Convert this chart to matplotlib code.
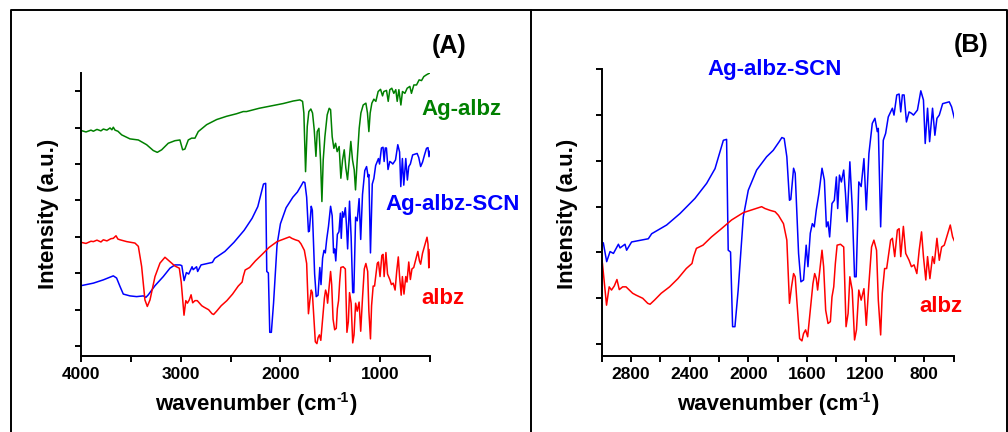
import matplotlib
matplotlib.use("Agg")
import matplotlib.pyplot as plt
from matplotlib.lines import Line2D
from matplotlib.ticker import MultipleLocator, NullFormatter

plt.rcParams['font.family'] = ['Liberation Sans', 'DejaVu Sans']
plt.rcParams['font.weight'] = 'bold'

# ---- spectra (wavenumber in cm-1, intensity in a.u.) ----
green_wn = [4000, 3950, 3900, 3876, 3840, 3800, 3776, 3740, 3709, 3690, 3676, 3659, 3630,
            3592, 3509, 3425, 3342, 3275, 3235, 3191, 3125, 3058, 3008, 2981, 2958,
            2924, 2891, 2857, 2824, 2740, 2640, 2540, 2440, 2373, 2340, 2213, 2139,
            1972, 1871, 1805, 1778, 1765, 1748, 1731, 1715, 1695, 1678, 1661, 1644,
            1631, 1614, 1598, 1584, 1571, 1554, 1531, 1511, 1497, 1481, 1464, 1447,
            1431, 1411, 1394, 1377, 1360, 1344, 1327, 1310, 1294, 1277, 1260, 1247,
            1230, 1210, 1193, 1170, 1143, 1127, 1113, 1100, 1083, 1063, 1043, 1020,
            996, 976, 963, 936, 919, 903, 883, 863, 843, 829, 812, 792, 776, 752,
            729, 702, 686, 662, 635, 609, 585, 562, 535, 508, 500]
green_y = [5.92, 5.88, 5.93, 5.90, 5.95, 5.91, 5.96, 5.93, 5.99, 5.94, 6.01, 5.93, 5.90,
           5.80, 5.69, 5.66, 5.53, 5.37, 5.32, 5.39, 5.57, 5.64, 5.66, 5.39, 5.41,
           5.66, 5.71, 5.71, 5.89, 6.08, 6.22, 6.31, 6.38, 6.44, 6.44, 6.53, 6.57,
           6.66, 6.73, 6.76, 6.72, 6.40, 4.79, 6.03, 6.44, 6.51, 6.40, 5.94, 5.21,
           5.89, 5.98, 5.11, 3.97, 5.11, 5.75, 6.35, 6.53, 6.49, 5.75, 5.43, 5.57,
           5.34, 5.48, 4.61, 5.11, 5.39, 4.89, 4.57, 5.11, 5.62, 5.11, 4.84, 4.29,
           5.11, 5.98, 6.40, 6.62, 6.67, 6.40, 5.89, 6.40, 6.67, 6.78, 6.72, 6.99,
           7.05, 6.87, 6.99, 7.02, 6.72, 7.04, 7.08, 6.94, 7.04, 6.72, 7.04, 6.62, 6.99, 6.94,
           7.08, 7.13, 6.94, 7.17, 7.17, 7.31, 7.29, 7.40, 7.45, 7.49, 7.50]

blue_wn = [4000, 3876, 3776, 3676, 3643, 3609, 3576, 3509, 3442, 3375, 3349, 3325, 3258,
           3175, 3108, 3058, 3008, 2989, 2966, 2943, 2920, 2886, 2875, 2841, 2830,
           2796, 2682, 2659, 2557, 2466, 2364, 2284, 2227, 2170, 2148, 2137, 2121,
           2107, 2091, 2069, 2034, 2000, 1943, 1875, 1830, 1789, 1771, 1755, 1737,
           1719, 1710, 1691, 1680, 1657, 1641, 1623, 1605, 1593, 1577, 1563, 1550,
           1536, 1518, 1497, 1481, 1467, 1456, 1445, 1429, 1413, 1399, 1390, 1378,
           1365, 1349, 1337, 1326, 1307, 1291, 1275, 1264, 1246, 1230, 1211, 1195,
           1177, 1154, 1136, 1120, 1113, 1097, 1079, 1063, 1045, 1017, 1006, 987,
           971, 960, 949, 937, 921, 903, 887, 873, 846, 823, 805, 793, 777, 763,
           743, 727, 713, 697, 674, 629, 613, 594, 575, 555, 535, 520, 510, 500]
blue_y = [1.66, 1.73, 1.82, 1.93, 1.87, 1.64, 1.43, 1.38, 1.36, 1.38, 1.34, 1.41, 1.66,
          1.91, 2.14, 2.23, 2.23, 2.21, 1.80, 2.02, 1.98, 2.18, 2.10, 2.18, 2.05,
          2.23, 2.30, 2.41, 2.60, 2.85, 3.18, 3.51, 3.83, 4.45, 4.47, 2.05, 2.01,
          0.38, 0.38, 1.18, 2.78, 3.36, 3.80, 4.09, 4.23, 4.42, 4.51, 4.49, 4.09,
          3.14, 3.16, 3.84, 3.73, 1.98, 1.36, 1.40, 2.16, 1.69, 2.42, 2.63, 2.56,
          2.93, 3.29, 3.84, 3.58, 2.56, 2.67, 2.34, 3.07, 3.14, 3.65, 2.96, 3.69,
          3.54, 3.80, 3.29, 2.67, 3.98, 3.00, 1.47, 1.47, 3.54, 3.44, 4.05, 2.93,
          4.16, 4.82, 4.93, 4.64, 4.71, 2.56, 4.45, 4.60, 4.96, 5.15, 5.00, 5.44,
          5.46, 5.07, 5.44, 5.44, 4.85, 5.07, 5.04, 5.00, 5.11, 5.53, 5.33, 4.38, 5.15, 4.42,
          5.15, 4.56, 4.93, 5.00, 5.25, 5.29, 5.18, 4.93, 5.05, 5.25, 5.43, 5.45, 5.20, 5.35]

red_wn = [4000, 3950, 3900, 3876, 3840, 3800, 3776, 3740, 3700, 3676, 3649, 3630, 3609,
          3542, 3459, 3425, 3392, 3359, 3335, 3308, 3258, 3208, 3158, 3108, 3058,
          3014, 2995, 2967, 2949, 2933, 2914, 2896, 2880, 2857, 2834, 2811, 2789,
          2766, 2720, 2686, 2670, 2640, 2594, 2537, 2480, 2423, 2384, 2373, 2354,
          2309, 2251, 2183, 2114, 2034, 1966, 1909, 1886, 1851, 1817, 1794, 1760,
          1737, 1719, 1705, 1691, 1680, 1669, 1650, 1634, 1623, 1609, 1595, 1577,
          1559, 1547, 1536, 1527, 1509, 1497, 1486, 1472, 1456, 1440, 1429, 1417,
          1406, 1394, 1371, 1349, 1333, 1319, 1307, 1291, 1275, 1262, 1246, 1230,
          1211, 1195, 1177, 1159, 1143, 1125, 1113, 1097, 1086, 1070, 1056, 1029,
          1017, 1001, 983, 971, 960, 942, 926, 903, 887, 869, 850, 834, 818, 805,
          789, 777, 761, 743, 731, 713, 697, 681, 663, 640, 622, 606, 594, 575, 555,
          530, 520, 512, 506, 500]
red_y = [2.85, 2.82, 2.88, 2.87, 2.91, 2.86, 2.92, 2.89, 2.95, 2.96, 3.03, 2.94, 2.92,
         2.87, 2.83, 2.74, 2.19, 1.27, 1.09, 1.27, 1.91, 2.28, 2.44, 2.32, 2.20,
         2.14, 1.76, 0.85, 1.25, 1.18, 1.27, 1.41, 1.19, 1.25, 1.25, 1.18, 1.11,
         1.07, 1.00, 0.89, 0.87, 0.96, 1.11, 1.25, 1.43, 1.65, 1.76, 1.91, 2.09,
         2.16, 2.34, 2.52, 2.71, 2.87, 2.94, 3.00, 2.96, 2.92, 2.89, 2.81, 2.63,
         2.27, 0.89, 1.25, 1.54, 1.47, 0.96, 0.12, 0.07, 0.23, 0.31, 0.16, 0.74,
         1.32, 1.54, 1.43, 1.18, 1.69, 2.05, 1.69, 0.74, 0.45, 0.49, 1.03, 1.25,
         1.76, 2.16, 2.18, 2.12, 0.38, 0.67, 1.47, 1.18, 0.09, 0.31, 1.18, 0.96,
         1.21, 0.41, 1.32, 2.12, 2.27, 2.05, 0.96, 0.20, 1.11, 1.65, 1.65, 2.27,
         2.31, 1.91, 2.49, 2.52, 1.91, 2.57, 1.98, 1.83, 1.69, 1.73, 1.54, 2.05, 2.45, 1.91,
         1.40, 1.91, 1.43, 1.91, 1.76, 2.31, 1.83, 2.12, 2.16, 2.41, 2.60, 2.34, 2.25, 2.55, 2.75,
         2.99, 2.80, 2.15, 2.30, 2.65]

green = '#008000'
blue = '#0000FF'
red = '#FF0000'

W, H = 1008, 432
fig = plt.figure(figsize=(W / 100, H / 100), dpi=100)


def fx(px):
    return px / W


def fy(py):
    return 1 - py / H


# panel frames
frame_kw = dict(color='black', lw=1.4, transform=fig.transFigure)
fig.add_artist(Line2D([fx(11), fx(11), fx(1007), fx(1007)], [0, fy(10), fy(10), 0], **frame_kw))
fig.add_artist(Line2D([fx(530.5), fx(530.5)], [0, fy(10)], **frame_kw))


def style_axes(ax):
    for s in ['top', 'right']:
        ax.spines[s].set_visible(False)
    for s in ['left', 'bottom']:
        ax.spines[s].set_linewidth(1.4)
    ax.tick_params(which='major', direction='out', length=4, width=1.4,
                   labelsize=12.5, pad=4)
    ax.tick_params(which='minor', direction='out', length=4, width=1.4)
    ax.yaxis.set_major_locator(MultipleLocator(1))
    ax.yaxis.set_major_formatter(NullFormatter())
    for lab in ax.get_xticklabels():
        lab.set_fontweight('bold')


# ---- panel A ----
axA = fig.add_axes([fx(81), fy(356), fx(430) - fx(81), fy(73.3) - fy(356)])
axA.plot(green_wn, green_y, color=green, lw=1.1)
axA.plot(blue_wn, blue_y, color=blue, lw=1.1)
axA.plot(red_wn, red_y, color=red, lw=1.1)
axA.set_xlim(4000, 500)
axA.set_ylim(-0.27, 7.49)
axA.set_xticks([4000, 3000, 2000, 1000])
axA.xaxis.set_minor_locator(MultipleLocator(500))
style_axes(axA)

# ---- panel B ----
axB = fig.add_axes([fx(601.7), fy(356), fx(953.5) - fx(601.7), fy(69.3) - fy(356)])
axB.plot(blue_wn, blue_y, color=blue, lw=1.1)
axB.plot(red_wn, red_y, color=red, lw=1.1)
axB.set_xlim(3000, 600)
axB.set_ylim(-0.26, 6.0)
axB.set_xticks([2800, 2400, 2000, 1600, 1200, 800])
axB.xaxis.set_minor_locator(MultipleLocator(200))
style_axes(axB)

# ---- texts ----
renderer = fig.canvas.get_renderer()


def xlabel_at(cx, base_y):
    # "wavenumber (cm" + raised "-1" + ")", centred on cx (pixels)
    parts = [('wavenumber (cm', 16, 0), ('-1', 10, 8), (')', 16, 0)]
    texts = []
    widths = []
    for s, size, _ in parts:
        t = fig.text(0, 0, s, fontsize=size, fontweight='bold', va='baseline')
        widths.append(t.get_window_extent(renderer).width)
        texts.append(t)
    x = cx - sum(widths) / 2
    for t, w, (_, _, rise) in zip(texts, widths, parts):
        t.set_position((fx(x), fy(base_y - rise)))
        x += w


xlabel_at(255.5, 410)
xlabel_at(777.7, 410)

lab_kw = dict(fontsize=16, fontweight='bold', ha='center', va='center')
fig.text(fx(49), fy(214), 'Intensity (a.u.)', rotation=90, **lab_kw)
fig.text(fx(568), fy(214), 'Intensity (a.u.)', rotation=90, **lab_kw)

fig.text(fx(449), fy(46), '(A)', fontsize=18, fontweight='bold', ha='center', va='center')
fig.text(fx(971), fy(45), '(B)', fontsize=18, fontweight='bold', ha='center', va='center')

fig.text(fx(461), fy(109), 'Ag-albz', color=green, fontsize=16, fontweight='bold', ha='center', va='center')
fig.text(fx(453), fy(205), 'Ag-albz-SCN', color=blue, fontsize=16, fontweight='bold', ha='center', va='center')
fig.text(fx(443), fy(299), 'albz', color=red, fontsize=16, fontweight='bold', ha='center', va='center')
fig.text(fx(775), fy(70), 'Ag-albz-SCN', color=blue, fontsize=16, fontweight='bold', ha='center', va='center')
fig.text(fx(941), fy(306), 'albz', color=red, fontsize=16, fontweight='bold', ha='center', va='center')

fig.savefig('out.png', dpi=100)
